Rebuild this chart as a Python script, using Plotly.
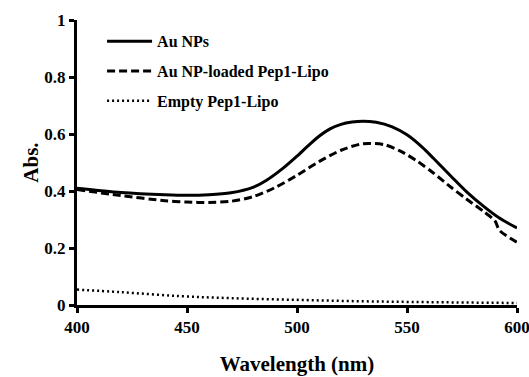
import plotly.graph_objects as go

# Wavelength grid (nm)
wl_au = [400, 420, 440, 450, 460, 470, 480, 486, 494, 500, 505, 510, 515, 520, 525, 530, 536, 543, 550, 557, 562, 570, 577, 585, 592, 600]
abs_au = [0.41, 0.395, 0.387, 0.385, 0.387, 0.394, 0.413, 0.437, 0.482, 0.522, 0.558, 0.592, 0.618, 0.634, 0.642, 0.645, 0.641, 0.626, 0.597, 0.553, 0.515, 0.452, 0.398, 0.345, 0.305, 0.27]

wl_lipo = [400, 420, 440, 450, 460, 470, 480, 490, 500, 510, 520, 530, 540, 547, 555, 562, 570, 577, 585, 590, 592, 600]
abs_lipo = [0.405, 0.384, 0.366, 0.361, 0.36, 0.364, 0.38, 0.412, 0.455, 0.503, 0.543, 0.566, 0.562, 0.54, 0.503, 0.463, 0.413, 0.372, 0.327, 0.295, 0.262, 0.22]

wl_empty = [400, 420, 447, 470, 500, 530, 560, 600]
abs_empty = [0.054, 0.045, 0.031, 0.024, 0.018, 0.013, 0.01, 0.007]

names = ["Au NPs", "Au NP-loaded Pep1-Lipo", "Empty Pep1-Lipo"]

FONT = "Liberation Serif"

fig = go.Figure()
fig.add_trace(go.Scatter(x=wl_au, y=abs_au, mode="lines", name=names[0], legendgroup="a",
                         line=dict(color="black", width=3, shape="spline", smoothing=0.8)))
fig.add_trace(go.Scatter(x=wl_lipo, y=abs_lipo, mode="lines", name=names[1], legendgroup="b",
                         line=dict(color="black", width=3, dash="8px,4px", shape="spline", smoothing=0.8)))
fig.add_trace(go.Scatter(x=wl_empty, y=abs_empty, mode="lines", name=names[2], legendgroup="c",
                         line=dict(color="black", width=2.5, dash="2px,3px", shape="spline")))

fig.update_layout(
    width=529, height=377,
    margin=dict(l=77, r=12, t=20, b=72, autoexpand=False),
    paper_bgcolor="white", plot_bgcolor="white",
    font=dict(family=FONT, color="black", size=16, weight="bold"),
    showlegend=True,
    legend=dict(x=0.057, y=0.985, xanchor="left", yanchor="top", traceorder="grouped",
                bgcolor="rgba(0,0,0,0)", font=dict(size=16, family=FONT, weight="bold"),
                itemwidth=45, tracegroupgap=6),
)
fig.update_xaxes(range=[400, 600], tickvals=[400, 450, 500, 550, 600], automargin=False,
                 showline=True, linecolor="black", linewidth=3, showgrid=False, zeroline=False,
                 ticks="outside", ticklen=5, tickwidth=3, tickcolor="black",
                 ticklabeloverflow="allow",
                 tickfont=dict(size=17, family=FONT, weight="bold"),
                 title=dict(text="Wavelength (nm)", font=dict(size=21, family=FONT, weight="bold"), standoff=20))
fig.update_yaxes(range=[0, 1], tickvals=[0, 0.2, 0.4, 0.6, 0.8, 1], ticktext=["0", "0.2", "0.4", "0.6", "0.8", "1"],
                 automargin=False,
                 showline=True, linecolor="black", linewidth=3, showgrid=False, zeroline=False,
                 ticks="outside", ticklen=5, tickwidth=3, tickcolor="black",
                 tickfont=dict(size=17, family=FONT, weight="bold"),
                 title=dict(text="Abs.", font=dict(size=21, family=FONT, weight="bold"), standoff=0))

fig.write_html("out.html", config={"displayModeBar": False},
               post_script="document.body.style.margin='0';document.body.style.overflow='hidden';")
